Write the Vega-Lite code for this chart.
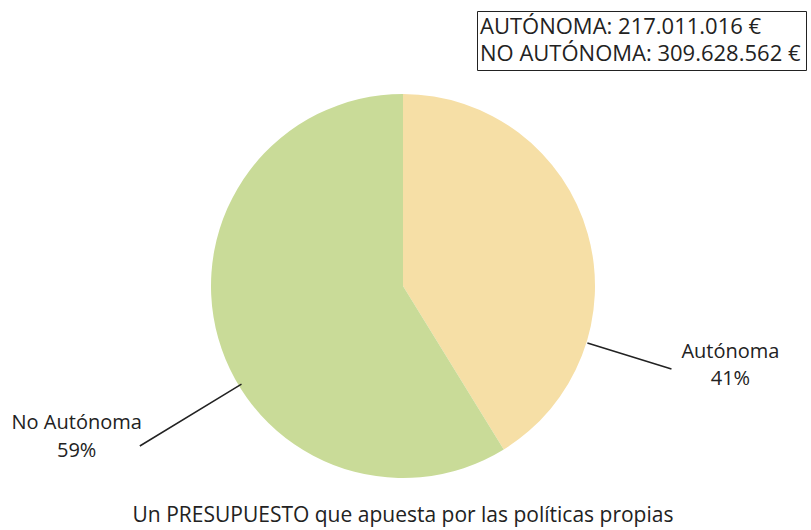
{
  "$schema": "https://vega.github.io/schema/vega-lite/v6.json",
  "autosize": {"type": "none"},
  "width": 806,
  "height": 372,
  "padding": {"top": 100, "left": 0, "right": 5, "bottom": 58},
  "background": "white",
  "view": {"stroke": null},
  "title": {
    "text": "Un PRESUPUESTO que apuesta por las políticas propias",
    "orient": "bottom",
    "offset": 27,
    "fontSize": 21,
    "fontWeight": "normal",
    "font": "Open Sans",
    "color": "#222222"
  },
  "data": {
    "values": [
      {"categoria": "Autónoma", "importe": 217011016},
      {"categoria": "No Autónoma", "importe": 309628562}
    ]
  },
  "layer": [
    {
      "mark": {"type": "arc", "radius": 192},
      "encoding": {
        "theta": {"field": "importe", "type": "quantitative", "stack": true},
        "color": {
          "field": "categoria",
          "type": "nominal",
          "scale": {"domain": ["Autónoma", "No Autónoma"], "range": ["#f6dfa6", "#c9db98"]},
          "legend": {
            "orient": "none",
            "legendX": 477,
            "legendY": -89,
            "title": null,
            "strokeColor": "#222222",
            "padding": 5,
            "labelFontSize": 22,
            "labelFont": "Open Sans",
            "labelColor": "#222222",
            "labelLimit": 600,
            "labelAlign": "left",
            "labelOffset": -24,
            "symbolSize": 0,
            "symbolOpacity": 0,
            "symbolStrokeWidth": 0,
            "rowPadding": 5,
            "labelExpr": "datum.label == 'Autónoma' ? 'AUTÓNOMA: 217.011.016 €' : 'NO AUTÓNOMA: 309.628.562 €'"
          }
        }
      }
    },
    {
      "transform": [
        {"window": [{"op": "sum", "field": "importe", "as": "acum"}], "sort": [{"field": "categoria", "order": "ascending"}]},
        {"joinaggregate": [{"op": "sum", "field": "importe", "as": "total"}]},
        {"calculate": "datum.acum - datum.importe / 2", "as": "medio"},
        {"calculate": "datum.categoria + '\\n' + round(100 * datum.importe / datum.total) + '%'", "as": "etiqueta"},
        {"filter": "datum.categoria == 'Autónoma'"}
      ],
      "mark": {"type": "text", "radius": 334, "thetaOffset": 0.475, "fontSize": 20, "font": "Open Sans", "color": "#222222", "align": "center", "baseline": "middle", "lineBreak": "\n", "lineHeight": 27},
      "encoding": {
        "theta": {"field": "medio", "type": "quantitative", "stack": null},
        "text": {"field": "etiqueta", "type": "nominal"}
      }
    },
    {
      "transform": [
        {"window": [{"op": "sum", "field": "importe", "as": "acum"}], "sort": [{"field": "categoria", "order": "ascending"}]},
        {"joinaggregate": [{"op": "sum", "field": "importe", "as": "total"}]},
        {"calculate": "datum.acum - datum.importe / 2", "as": "medio"},
        {"calculate": "datum.categoria + '\\n' + round(100 * datum.importe / datum.total) + '%'", "as": "etiqueta"},
        {"filter": "datum.categoria == 'No Autónoma'"}
      ],
      "mark": {"type": "text", "radius": 354, "thetaOffset": -0.122, "fontSize": 20, "font": "Open Sans", "color": "#222222", "align": "center", "baseline": "middle", "lineBreak": "\n", "lineHeight": 28},
      "encoding": {
        "theta": {"field": "medio", "type": "quantitative", "stack": null},
        "text": {"field": "etiqueta", "type": "nominal"}
      }
    },
    {
      "transform": [
        {"window": [{"op": "sum", "field": "importe", "as": "acum"}], "sort": [{"field": "categoria", "order": "ascending"}]},
        {"calculate": "datum.acum - datum.importe / 2", "as": "medio"},
        {"filter": "datum.categoria == 'Autónoma'"}
      ],
      "mark": {"type": "arc", "filled": false, "radius": 281, "radius2": 193, "thetaOffset": 0.576, "theta2Offset": 0.576, "stroke": "#222222", "strokeWidth": 1.5},
      "encoding": {
        "theta": {"field": "medio", "type": "quantitative", "stack": null},
        "theta2": {"field": "medio"}
      }
    },
    {
      "transform": [
        {"window": [{"op": "sum", "field": "importe", "as": "acum"}], "sort": [{"field": "categoria", "order": "ascending"}]},
        {"calculate": "datum.acum - datum.importe / 2", "as": "medio"},
        {"filter": "datum.categoria == 'No Autónoma'"}
      ],
      "mark": {"type": "arc", "filled": false, "radius": 308, "radius2": 189, "thetaOffset": -0.27, "theta2Offset": -0.27, "stroke": "#222222", "strokeWidth": 1.5},
      "encoding": {
        "theta": {"field": "medio", "type": "quantitative", "stack": null},
        "theta2": {"field": "medio"}
      }
    }
  ]
}
